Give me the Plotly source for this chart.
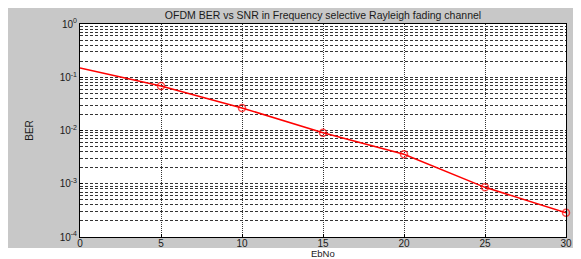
import plotly.graph_objects as go

ebno = [0, 5, 10, 15, 20, 25, 30]
ber = [0.149, 0.0685, 0.0265, 0.0091, 0.00357, 0.000857, 0.000286]
x_ticks = [0, 5, 10, 15, 20, 25, 30]
y_ticks = [1e-4, 1e-3, 1e-2, 1e-1, 1e0]
y_ticktext = ["10<sup>-4</sup>", "10<sup>-3</sup>", "10<sup>-2</sup>", "10<sup>-1</sup>", "10<sup>0</sup>"]
minor_vals = [m * d for d in [1e-4, 1e-3, 1e-2, 1e-1] for m in range(2, 10)]

# page has an 8px body margin; work in figure pixel coordinates
OFF = 8
W, H = 581 - OFF, 259 - OFF
L, R, T, B = 80 - OFF, 566 - OFF, 24 - OFF, 237 - OFF

def px(x):
    return (x - L) / (R - L)

def py(y):
    return (B - y) / (B - T)

fig = go.Figure()
fig.add_trace(go.Scatter(
    x=ebno, y=ber, mode="lines+markers",
    line=dict(color="#ff0000", width=1.5),
    marker=dict(symbol="circle-open", size=[0, 7, 7, 7, 7, 7, 7], color="#ff0000", line=dict(width=1.5)),
    showlegend=False, cliponaxis=False,
))

grid_col = "#333333"
txt_col = "#1a1a1a"
fig.update_layout(
    width=W, height=H,
    margin=dict(l=L, r=W - R, t=T, b=H - B, pad=0),
    paper_bgcolor="white", plot_bgcolor="rgba(0,0,0,0)",
    font=dict(family="Liberation Sans, Arial", size=10, color=txt_col),
    title=dict(text="OFDM BER vs SNR in Frequency selective Rayleigh fading channel",
               x=px(323 - OFF), xref="paper", xanchor="center", y=1 - 7 / H, yanchor="middle",
               font=dict(size=10.5, color=txt_col)),
    shapes=[
        dict(type="rect", xref="paper", yref="paper", x0=px(0), x1=px(567), y0=py(240), y1=py(-3),
             fillcolor="#c8c8c8", line=dict(width=0), layer="below"),
        dict(type="rect", xref="paper", yref="paper", x0=0, x1=1, y0=0, y1=1,
             fillcolor="white", line=dict(width=0), layer="below"),
    ],
    annotations=[
        dict(text="EbNo", xref="paper", yref="paper", x=px(323 - OFF), y=py(245.6),
             xanchor="center", yanchor="middle", showarrow=False, font=dict(size=9.5, color=txt_col)),
    ],
)
fig.update_xaxes(
    range=[0, 30], tickvals=x_ticks, ticktext=[str(v) for v in x_ticks],
    showgrid=True, gridcolor=grid_col, griddash="1px,1px", gridwidth=1,
    showline=True, linecolor="#000", linewidth=1, mirror=True,
    ticks="inside", ticklen=3, tickcolor="#000", zeroline=False, automargin=False,
    ticklabelstandoff=-3,
    tickfont=dict(size=10, color=txt_col),
)
fig.update_yaxes(
    type="log", range=[-4, 0], tickvals=y_ticks, ticktext=y_ticktext,
    showgrid=True, gridcolor=grid_col, griddash="3px,2px", gridwidth=1,
    minor=dict(tickvals=minor_vals, showgrid=True, gridcolor=grid_col, griddash="3px,2px", gridwidth=1, ticks=""),
    showline=True, linecolor="#000", linewidth=1, mirror=True,
    ticks="inside", ticklen=3, tickcolor="#000", zeroline=False, automargin=False,
    tickfont=dict(size=10, color=txt_col),
    title=dict(text="BER", standoff=24, font=dict(size=10, color=txt_col)),
)

fig.write_html("out.html")
